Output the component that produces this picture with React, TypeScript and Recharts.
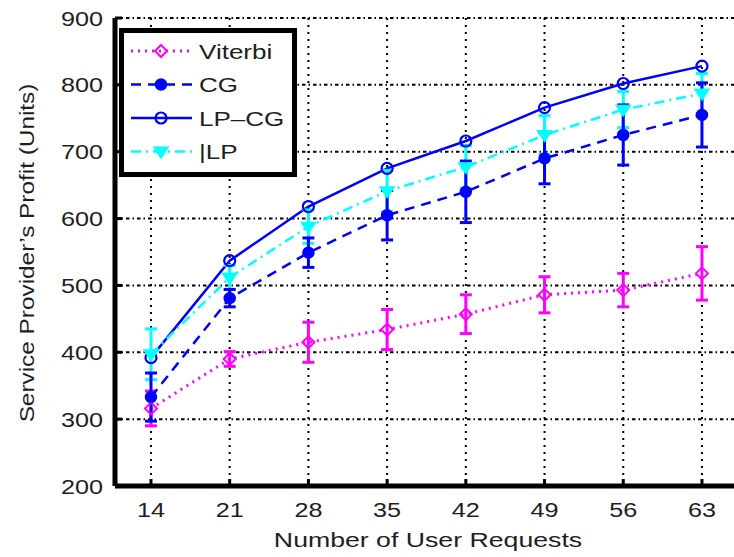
import React from 'react';
import { LineChart, Line, XAxis, YAxis, CartesianGrid, ErrorBar } from 'recharts';

const requests = [14, 21, 28, 35, 42, 49, 56, 63];
const yTicks = [200, 300, 400, 500, 600, 700, 800, 900];

const viterbi = [316, 390, 415, 434, 457, 486, 493, 518];
const viterbiErr = [26, 11, 30, 30, 29, 27, 25, 40];
const cg = [333, 481, 549, 605, 640, 690, 725, 755];
const cgErr = [36, 13, 22, 37, 46, 38, 45, 48];
const lpcg = [392, 537, 618, 675, 716, 766, 802, 828];
const lp = [397, 512, 588, 641, 677, 725, 763, 787];
const lpErr = [38, 18, 25, 31, 32, 29, 27, 30];

const seriesNames = ['Viterbi', 'CG', 'LP\u2013CG', '|LP'];

const data = requests.map((x, i) => ({
  x,
  viterbi: viterbi[i],
  viterbiErr: viterbiErr[i],
  cg: cg[i],
  cgErr: cgErr[i],
  lpcg: lpcg[i],
  lp: lp[i],
  lpErr: lpErr[i],
}));

const MAGENTA = '#ff00ff';
const BLUE = '#0000ff';
const CYAN = '#00ffff';
const FONT = '"Liberation Sans", Arial, Helvetica, sans-serif';
const TEXT = '#1e1e1e';
const FS = 21;

const SText = (props: any) => {
  const { x, y, sx = 1.2, rotate = 0, anchor = 'start', size = FS, children } = props;
  return (
    <text
      x={0}
      y={0}
      transform={`translate(${x} ${y}) rotate(${rotate}) scale(${sx} 1)`}
      textAnchor={anchor}
      fontFamily={FONT}
      fontSize={size}
      fill={TEXT}
    >
      {children}
    </text>
  );
};

const Diamond = (props: any) => {
  const { cx, cy } = props;
  if (cx == null || cy == null) return null;
  const s = 6;
  return (
    <polygon
      points={`${cx},${cy - s} ${cx + s},${cy} ${cx},${cy + s} ${cx - s},${cy}`}
      fill="none"
      stroke={MAGENTA}
      strokeWidth={2}
    />
  );
};

const TriDown = (props: any) => {
  const { cx, cy } = props;
  if (cx == null || cy == null) return null;
  const s = 7;
  return (
    <polygon
      points={`${cx - s},${cy - s * 0.6} ${cx + s},${cy - s * 0.6} ${cx},${cy + s * 0.9}`}
      fill={CYAN}
      stroke={CYAN}
      strokeWidth={1.5}
    />
  );
};

const OpenCircle = (props: any) => {
  const { cx, cy } = props;
  if (cx == null || cy == null) return null;
  return <circle cx={cx} cy={cy} r={5.5} fill="none" stroke={BLUE} strokeWidth={2.2} />;
};

const FilledCircle = (props: any) => {
  const { cx, cy } = props;
  if (cx == null || cy == null) return null;
  return <circle cx={cx} cy={cy} r={5.5} fill={BLUE} stroke={BLUE} strokeWidth={1.5} />;
};

const XTick = (props: any) => {
  const { x, y, payload } = props;
  return (
    <g>
      <line x1={x} y1={y - 14} x2={x} y2={y - 21} stroke="#000" strokeWidth={3} />
      <SText x={x} y={y + 17} anchor="middle">
        {payload.value}
      </SText>
    </g>
  );
};

const YTick = (props: any) => {
  const { x, y, payload } = props;
  return (
    <g>
      <line x1={x + 12} y1={y} x2={x + 19} y2={y} stroke="#000" strokeWidth={3} />
      <SText x={x} y={y + 7.5} anchor="end">
        {payload.value}
      </SText>
    </g>
  );
};

const TopTick = (props: any) => {
  const { x, y } = props;
  return <line x1={x} y1={y} x2={x} y2={y + 6} stroke="#000" strokeWidth={3} />;
};

const LegendBox = () => {
  const rows = [
    { name: seriesNames[0], color: MAGENTA, dash: '2 5', width: 3, marker: 'diamond' },
    { name: seriesNames[1], color: BLUE, dash: '10 7', width: 2.5, marker: 'filled' },
    { name: seriesNames[2], color: BLUE, dash: undefined, width: 2.5, marker: 'open' },
    { name: seriesNames[3], color: CYAN, dash: '10 5 2 5', width: 2.5, marker: 'tri' },
  ];
  return (
    <svg width={178} height={149} style={{ display: 'block' }}>
      <rect x={2.5} y={2.5} width={173} height={144} fill="#fff" stroke="#000" strokeWidth={5} />
      {rows.map((r, i) => {
        const cy = 23 + i * 33.5;
        const mx = 42;
        return (
          <g key={r.name}>
            <line x1={12} y1={cy} x2={73} y2={cy} stroke={r.color} strokeWidth={r.width} strokeDasharray={r.dash} />
            {r.marker === 'diamond' && <Diamond cx={mx} cy={cy} />}
            {r.marker === 'filled' && <FilledCircle cx={mx} cy={cy} />}
            {r.marker === 'open' && <OpenCircle cx={mx} cy={cy} />}
            {r.marker === 'tri' && <TriDown cx={mx} cy={cy} />}
            <SText x={80} y={cy + 7.5} sx={1.24}>
              {r.name}
            </SText>
          </g>
        );
      })}
    </svg>
  );
};

export default function App() {
  return (
    <div style={{ position: 'absolute', left: 0, top: 0, width: 734, height: 557, background: '#fff' }}>
      <LineChart width={734} height={557} data={data} margin={{ top: 18, right: 0, bottom: 0, left: 0 }}>
        <CartesianGrid horizontal={false} vertical stroke="#000" strokeWidth={2} strokeDasharray="2 5" verticalValues={requests} />
        <CartesianGrid horizontal vertical={false} stroke="#000" strokeWidth={2} strokeDasharray="3.5 3 1.5 3" />
        <XAxis
          dataKey="x"
          type="number"
          domain={[10.8, 65.85]}
          ticks={requests}
          allowDataOverflow
          height={71}
          tickSize={0}
          tickMargin={14}
          tick={<XTick />}
          axisLine={{ stroke: '#000', strokeWidth: 5 }}
          tickLine={false}
          interval={0}
          label={{
            content: () => (
              <SText x={428} y={547} anchor="middle" sx={1.27}>
                Number of User Requests
              </SText>
            ),
          }}
        />
        <XAxis
          xAxisId="top"
          orientation="top"
          dataKey="x"
          type="number"
          domain={[10.8, 65.85]}
          ticks={requests}
          allowDataOverflow
          height={0}
          tickSize={0}
          tick={<TopTick />}
          axisLine={{ stroke: '#000', strokeWidth: 5 }}
          tickLine={false}
        />
        <YAxis
          domain={[200, 900]}
          ticks={yTicks}
          width={115}
          tickSize={0}
          tickMargin={12}
          tick={<YTick />}
          axisLine={{ stroke: '#000', strokeWidth: 5 }}
          tickLine={false}
          interval={0}
          label={{
            content: () => (
              <SText x={34} y={253} rotate={-90} anchor="middle" sx={1.16}>
                Service Provider’s Profit (Units)
              </SText>
            ),
          }}
        />
        <Line
          dataKey="viterbi"
          name={seriesNames[0]}
          stroke={MAGENTA}
          strokeWidth={3}
          strokeDasharray="2 5"
          dot={<Diamond />}
          activeDot={false}
          isAnimationActive={false}
        >
          <ErrorBar dataKey="viterbiErr" direction="y" width={6} stroke={MAGENTA} strokeWidth={3} />
        </Line>
        <Line
          dataKey="lpcg"
          name={seriesNames[2]}
          stroke={BLUE}
          strokeWidth={2.5}
          dot={<OpenCircle />}
          activeDot={false}
          isAnimationActive={false}
        />
        <Line
          dataKey="lp"
          name={seriesNames[3]}
          stroke={CYAN}
          strokeWidth={2.5}
          strokeDasharray="10 5 2 5"
          dot={<TriDown />}
          activeDot={false}
          isAnimationActive={false}
        >
          <ErrorBar dataKey="lpErr" direction="y" width={6} stroke={CYAN} strokeWidth={3} />
        </Line>
        <Line
          dataKey="cg"
          name={seriesNames[1]}
          stroke={BLUE}
          strokeWidth={2.5}
          strokeDasharray="10 7"
          dot={<FilledCircle />}
          activeDot={false}
          isAnimationActive={false}
        >
          <ErrorBar dataKey="cgErr" direction="y" width={6} stroke={BLUE} strokeWidth={3} />
        </Line>
      </LineChart>
      <div style={{ position: 'absolute', left: 119, top: 28 }}>
        <LegendBox />
      </div>
    </div>
  );
}
